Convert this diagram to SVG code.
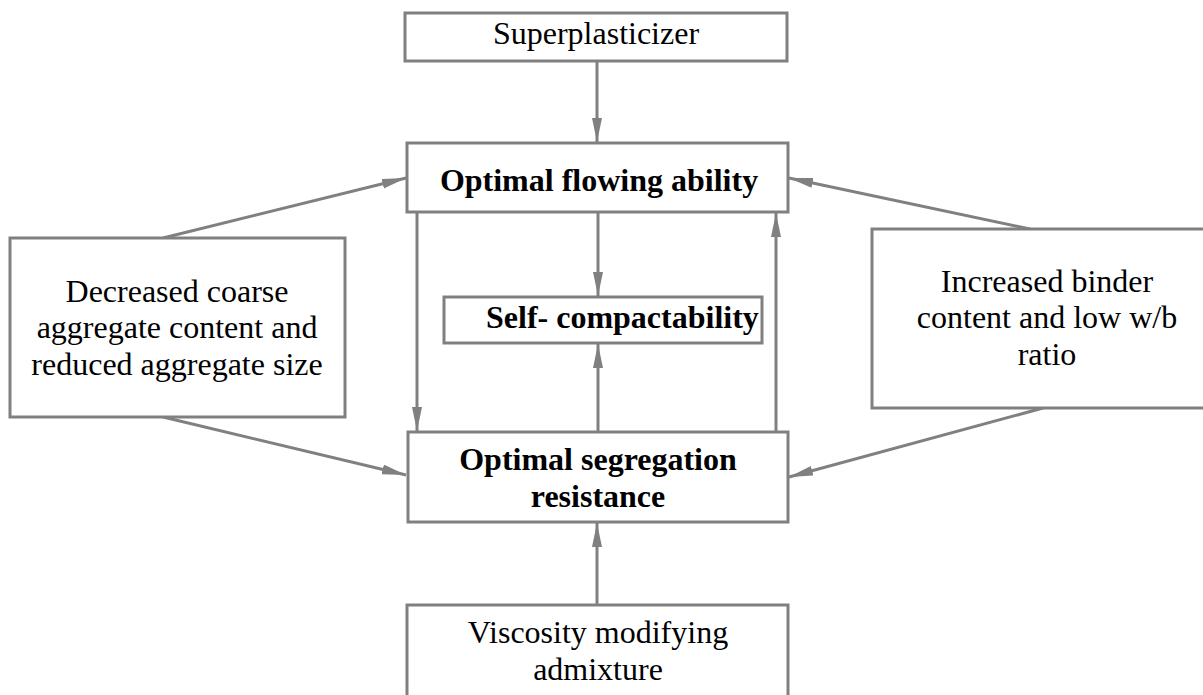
<svg xmlns="http://www.w3.org/2000/svg" width="1203" height="695" viewBox="0 0 1203 695">
<style>
.box{fill:#fff;stroke:#808080;stroke-width:3}
.t{font-family:"Liberation Serif","Times New Roman",serif;font-size:32px;fill:#000;text-anchor:middle}
.b{font-weight:bold}
.c{stroke:#808080;stroke-width:3;fill:none;marker-end:url(#ah)}
</style>
<defs>
<marker id="ah" markerUnits="userSpaceOnUse" markerWidth="26" markerHeight="12" refX="24" refY="5" orient="auto">
<path d="M0,0 L24,5 L0,10 z" fill="#808080"/>
</marker>
</defs>
<rect width="1203" height="695" fill="#fff"/>
<g id="connectors">
<line class="c" x1="597" y1="61" x2="597" y2="142"/>
<line class="c" x1="598" y1="212" x2="598" y2="296"/>
<line class="c" x1="598" y1="432" x2="598" y2="344"/>
<line class="c" x1="417" y1="212" x2="417" y2="431"/>
<line class="c" x1="776" y1="432" x2="776" y2="213"/>
<line class="c" x1="597" y1="605" x2="597" y2="523"/>
<line class="c" x1="163" y1="238" x2="406" y2="178"/>
<line class="c" x1="163" y1="417" x2="406" y2="475"/>
<line class="c" x1="1030" y1="229" x2="789" y2="178"/>
<line class="c" x1="1043" y1="408" x2="789" y2="477"/>
</g>
<g id="superplasticizer">
<rect class="box" x="405" y="13" width="382" height="48"/>
<text class="t" x="596" y="44">Superplasticizer</text>
</g>
<g id="flowing">
<rect class="box" x="407" y="143" width="381" height="69"/>
<text class="t b" x="599" y="191">Optimal flowing ability</text>
</g>
<g id="selfcompact">
<rect class="box" x="444" y="297" width="318" height="46"/>
<text class="t b" x="486" y="328" style="text-anchor:start">Self- compactability</text>
</g>
<g id="segregation">
<rect class="box" x="408" y="432" width="380" height="90"/>
<text class="t b" x="598" y="470">Optimal segregation</text>
<text class="t b" x="598" y="507">resistance</text>
</g>
<g id="aggregate">
<rect class="box" x="10" y="238" width="335" height="179"/>
<text class="t" x="177" y="302">Decreased coarse</text>
<text class="t" x="177" y="338">aggregate content and</text>
<text class="t" x="177" y="375">reduced aggregate size</text>
</g>
<g id="binder">
<rect class="box" x="872" y="229" width="340" height="179"/>
<text class="t" x="1047" y="292">Increased binder</text>
<text class="t" x="1047" y="328">content and low w/b</text>
<text class="t" x="1047" y="365">ratio</text>
</g>
<g id="vma">
<rect class="box" x="407" y="605" width="381" height="100"/>
<text class="t" x="598" y="643">Viscosity modifying</text>
<text class="t" x="598" y="680">admixture</text>
</g>
</svg>
